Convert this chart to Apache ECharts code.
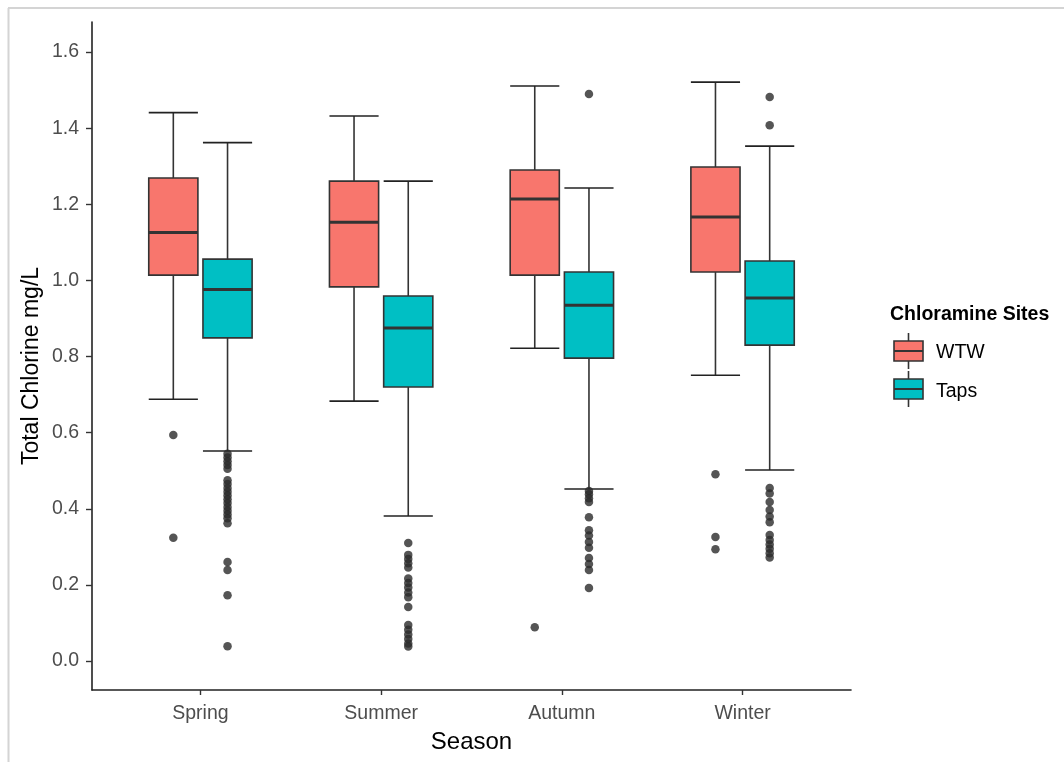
<!DOCTYPE html>
<html>
<head>
<meta charset="utf-8">
<style>
  html, body { margin: 0; padding: 0; background: #ffffff; }
  #chart { width: 1064px; height: 762px; }
</style>
<script src="https://cdn.jsdelivr.net/npm/echarts@6/dist/echarts.min.js"></script>
</head>
<body>
<div id="chart"></div>
<script>
// ---------------- DATA ----------------
const seasons = ['Spring', 'Summer', 'Autumn', 'Winter'];
const groups = ['WTW', 'Taps'];
const yTicks = [0.0, 0.2, 0.4, 0.6, 0.8, 1.0, 1.2, 1.4, 1.6];

// [lower whisker, Q1, median, Q3, upper whisker] per season
const wtwStats = [
  [0.688, 1.014, 1.126, 1.269, 1.441],
  [0.683, 0.983, 1.153, 1.261, 1.432],
  [0.822, 1.014, 1.214, 1.290, 1.511],
  [0.751, 1.022, 1.167, 1.298, 1.521]
];
const tapsStats = [
  [0.552, 0.849, 0.976, 1.056, 1.362],
  [0.381, 0.720, 0.875, 0.959, 1.261],
  [0.452, 0.796, 0.935, 1.022, 1.243],
  [0.502, 0.830, 0.954, 1.051, 1.353]
];

// outliers per season
const wtwOutliers = [
  [0.594, 0.324],
  [],
  [0.089],
  [0.491, 0.326, 0.294]
];
const tapsOutliers = [
  [0.545, 0.535, 0.525, 0.515, 0.505, 0.475, 0.465, 0.455, 0.445, 0.435, 0.425, 0.415, 0.405, 0.395, 0.385, 0.375, 0.362, 0.260, 0.239, 0.173, 0.039],
  [0.310, 0.279, 0.268, 0.257, 0.246, 0.217, 0.205, 0.193, 0.180, 0.168, 0.142, 0.095, 0.082, 0.070, 0.058, 0.046, 0.038],
  [1.490, 0.447, 0.438, 0.428, 0.418, 0.378, 0.344, 0.330, 0.313, 0.298, 0.271, 0.255, 0.239, 0.192],
  [1.482, 1.408, 0.455, 0.440, 0.418, 0.397, 0.380, 0.365, 0.331, 0.318, 0.306, 0.295, 0.283, 0.272]
];

// ---------------- STYLE / LAYOUT ----------------
const colors = { WTW: '#F8766D', Taps: '#00BFC4' };
const DODGE = 0.15;     // offset of each group from category centre (x units)
const BOX_W = 0.272;    // box width (x units)

function boxData(stats, offset) {
  return stats.map((s, i) => [i + 1 + offset, s[0], s[1], s[2], s[3], s[4]]);
}
function outlierData(outs, offset) {
  const res = [];
  outs.forEach((arr, i) => arr.forEach(v => res.push([i + 1 + offset, v])));
  return res;
}

function renderBox(params, api) {
  const x = api.value(0);
  const pLo = api.coord([x, api.value(1)]);
  const pQ1 = api.coord([x, api.value(2)]);
  const pMd = api.coord([x, api.value(3)]);
  const pQ3 = api.coord([x, api.value(4)]);
  const pHi = api.coord([x, api.value(5)]);
  const half = api.size([BOX_W, 0])[0] / 2;
  const cx = pMd[0];
  const fill = api.visual('color');
  const dark = '#333333';
  return {
    type: 'group',
    children: [
      { type: 'line', shape: { x1: cx, y1: pHi[1], x2: cx, y2: pQ3[1] }, style: { stroke: dark, lineWidth: 1.6 } },
      { type: 'line', shape: { x1: cx, y1: pQ1[1], x2: cx, y2: pLo[1] }, style: { stroke: dark, lineWidth: 1.6 } },
      { type: 'line', shape: { x1: cx - half, y1: pHi[1], x2: cx + half, y2: pHi[1] }, style: { stroke: '#222', lineWidth: 1.6 } },
      { type: 'line', shape: { x1: cx - half, y1: pLo[1], x2: cx + half, y2: pLo[1] }, style: { stroke: '#222', lineWidth: 1.6 } },
      { type: 'rect', shape: { x: cx - half, y: pQ3[1], width: half * 2, height: pQ1[1] - pQ3[1] },
        style: { fill: fill, stroke: dark, lineWidth: 1.6 } },
      { type: 'line', shape: { x1: cx - half, y1: pMd[1], x2: cx + half, y2: pMd[1] }, style: { stroke: dark, lineWidth: 3 } }
    ]
  };
}

// legend key drawn as a small boxplot glyph
function legendKey(y, color) {
  const x = 894, w = 29, cx = x + w / 2;
  return [
    { type: 'line', shape: { x1: cx, y1: y - 8, x2: cx, y2: y }, style: { stroke: '#333', lineWidth: 1.6 } },
    { type: 'line', shape: { x1: cx, y1: y + 20, x2: cx, y2: y + 28 }, style: { stroke: '#333', lineWidth: 1.6 } },
    { type: 'rect', shape: { x: x, y: y, width: w, height: 20 }, style: { fill: color, stroke: '#333', lineWidth: 1.6 } },
    { type: 'line', shape: { x1: x, y1: y + 10, x2: x + w, y2: y + 10 }, style: { stroke: '#333', lineWidth: 2 } }
  ];
}

const FONT = '"Liberation Sans", Arial, sans-serif';

const chart = echarts.init(document.getElementById('chart'), null, { renderer: 'canvas' });
chart.setOption({
  animation: false,
  backgroundColor: '#ffffff',
  grid: { left: 92, right: 213, top: 22, bottom: 72, containLabel: false },
  xAxis: {
    type: 'value',
    min: 0.4,
    max: 4.6,
    name: 'Season',
    nameLocation: 'middle',
    nameGap: 40,
    nameMoveOverlap: false,
    nameTextStyle: { color: '#000', fontSize: 24, fontFamily: FONT },
    axisLine: { show: true, onZero: false, lineStyle: { color: '#222', width: 1.6 } },
    axisTick: { show: true, length: 5, customValues: [1, 2, 3, 4], lineStyle: { color: '#333', width: 1.4 } },
    axisLabel: {
      customValues: [1, 2, 3, 4],
      formatter: v => seasons[Math.round(v) - 1],
      color: '#4D4D4D', fontSize: 19.5, fontFamily: FONT, margin: 14
    },
    splitLine: { show: false }
  },
  yAxis: {
    type: 'value',
    min: -0.076,
    max: 1.679,
    name: 'Total Chlorine mg/L',
    nameLocation: 'middle',
    nameGap: 49,
    nameMoveOverlap: false,
    nameTextStyle: { color: '#000', fontSize: 23, fontFamily: FONT, padding: [0, 20, 0, 0] },
    axisLine: { show: true, onZero: false, lineStyle: { color: '#222', width: 1.6 } },
    axisTick: { show: true, length: 6, customValues: yTicks, lineStyle: { color: '#333', width: 1.4 } },
    axisLabel: {
      customValues: yTicks,
      formatter: v => v.toFixed(1),
      color: '#4D4D4D', fontSize: 19.5, fontFamily: FONT, margin: 13
    },
    splitLine: { show: false }
  },
  series: [
    {
      name: 'WTW', type: 'custom', renderItem: renderBox,
      itemStyle: { color: colors.WTW },
      encode: { x: 0, y: [1, 2, 3, 4, 5] },
      data: boxData(wtwStats, -DODGE), z: 2
    },
    {
      name: 'Taps', type: 'custom', renderItem: renderBox,
      itemStyle: { color: colors.Taps },
      encode: { x: 0, y: [1, 2, 3, 4, 5] },
      data: boxData(tapsStats, DODGE), z: 2
    },
    {
      name: 'WTW outliers', type: 'scatter', symbolSize: 8.5,
      itemStyle: { color: '#2b2b2b' },
      data: outlierData(wtwOutliers, -DODGE), z: 3
    },
    {
      name: 'Taps outliers', type: 'scatter', symbolSize: 8.5,
      itemStyle: { color: '#2b2b2b' },
      data: outlierData(tapsOutliers, DODGE), z: 3
    }
  ],
  graphic: [
    // outer frame of the original screenshot
    { type: 'line', shape: { x1: 8, y1: 8, x2: 1064, y2: 8 }, style: { stroke: '#d4d4d4', lineWidth: 2 } },
    { type: 'line', shape: { x1: 8.5, y1: 8, x2: 8.5, y2: 762 }, style: { stroke: '#d4d4d4', lineWidth: 2 } },
    // legend
    { type: 'text', left: 890, top: 305, style: { text: 'Chloramine Sites', fill: '#000', font: 'bold 19.5px ' + FONT } },
    { type: 'group', children: legendKey(341, colors.WTW) },
    { type: 'group', children: legendKey(379, colors.Taps) },
    { type: 'text', left: 936, top: 343, style: { text: groups[0], fill: '#000', font: '19.5px ' + FONT } },
    { type: 'text', left: 936, top: 382, style: { text: groups[1], fill: '#000', font: '19.5px ' + FONT } }
  ]
});
</script>
</body>
</html>
